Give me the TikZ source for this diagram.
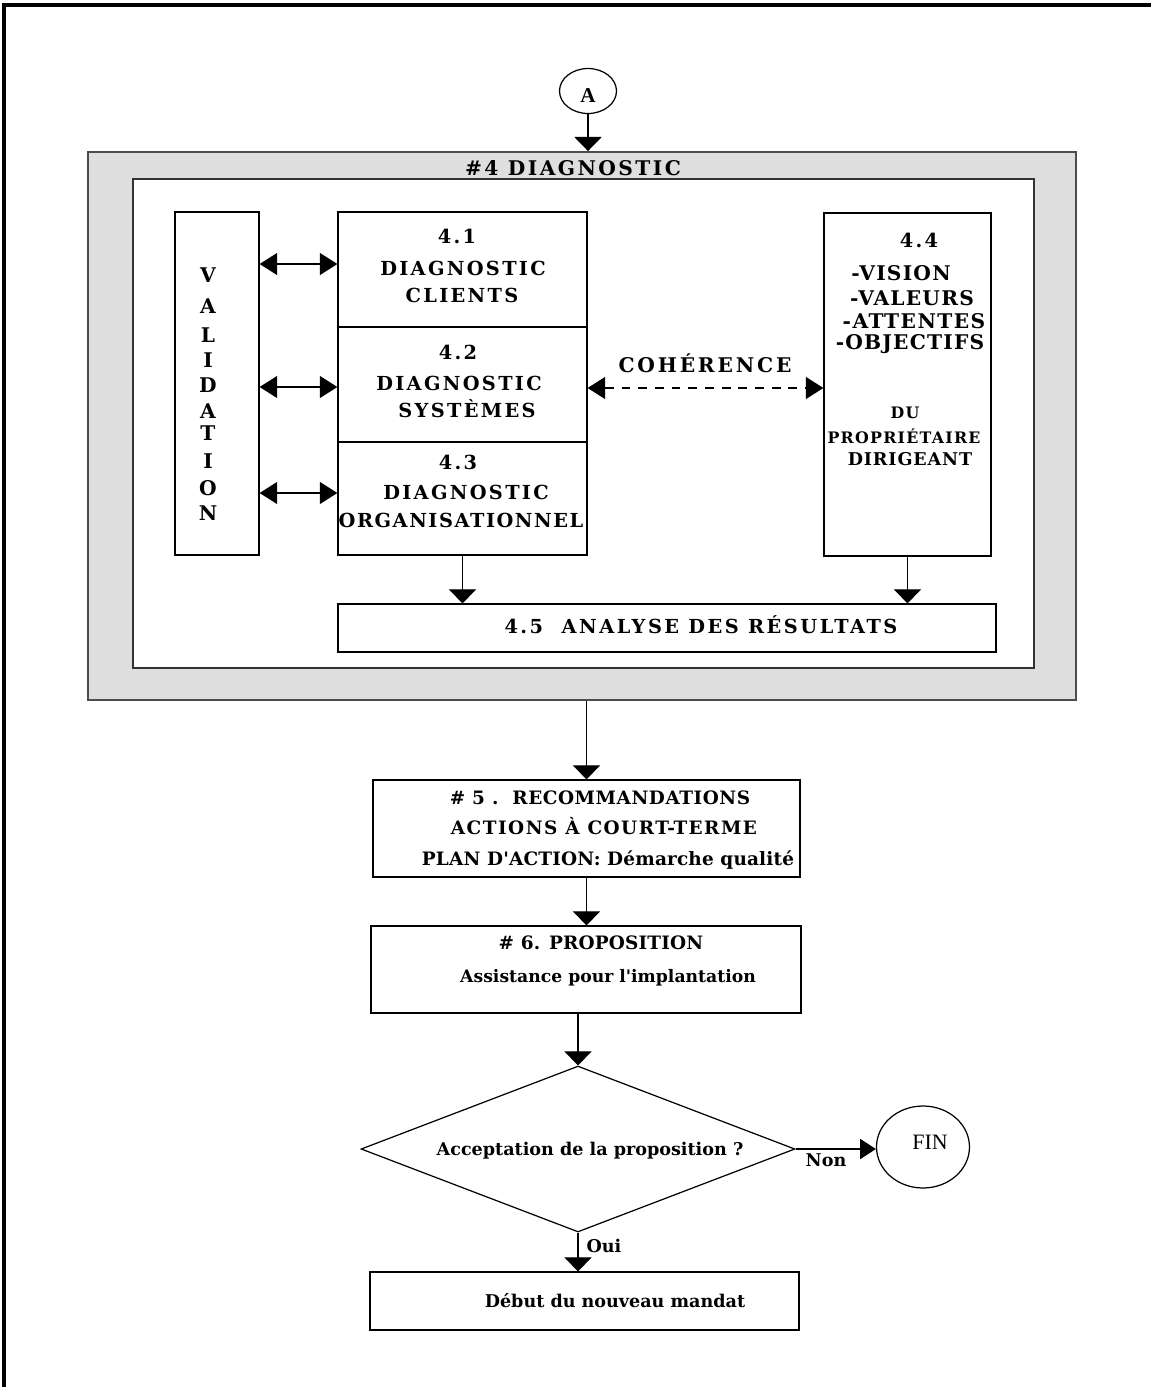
\documentclass[tikz,border=0pt]{standalone}
\usepackage{fontspec}
\setmainfont{DejaVu Serif}
\newfontfamily\dejavu{DejaVu Serif}
\newfontfamily\romanfont{Liberation Serif}
\usetikzlibrary{arrows.meta,shapes.geometric,fit}

\tikzset{
  frame/.style={draw, line width=0.7pt, inner sep=0pt},
  lbl/.style 2 args={anchor=base, inner sep=0pt,
    font=\dejavu\bfseries\fontsize{#1}{#1}\selectfont\addfontfeature{LetterSpace=#2}},
  arr/.style={line width=0.7pt, -{Triangle[length=8pt,width=15.5pt]}},
  dbl/.style={line width=0.7pt, {Triangle[length=10pt,width=12.5pt]}-{Triangle[length=10pt,width=12.5pt]}},
  sidearr/.style={line width=0.7pt, -{Triangle[length=9pt,width=11.5pt]}},
}

\begin{document}
\begin{tikzpicture}[x=0.02cm, y=-0.02cm]
\useasboundingbox (0,0) rectangle (1151,1387);

% page rule, top and left
\coordinate (pgbl) at (4,1387);
\coordinate (pgtl) at (4,5);
\coordinate (pgtr) at (1151,5);
\draw[line width=1.8pt] (pgbl) -- (pgtl) -- (pgtr);

% connector A
\node[ellipse, draw, line width=0.7pt, minimum width=1.14cm, minimum height=0.9cm, inner sep=0pt] (ca) at (588,91) {};
\node[anchor=base, inner sep=0pt, font=\romanfont\bfseries\fontsize{12}{12}\selectfont] (caA) at (588,102) {A};

% step 4 frame
\node[frame, fill=black!13, draw=black!70, line width=1.1pt, fit={(88,152) (1076,700)}] (diag) {};
\node[frame, fill=white, draw=black!80, line width=0.9pt, fit={(133,179) (1034,668)}] (inner) {};
\node[lbl={11.5}{12}] (title) at (573,175) {\#4 DIAGNOSTIC};

% validation column
\node[frame, fit={(175,212) (259,555)}] (val) {};
\foreach \ch/\yy [count=\k] in {V/282, A/313, L/342, I/367, D/392, A/418, T/440, I/468, O/495, N/520}
  \node[lbl={11.5}{0}] (v\k) at (208,\yy) {\ch};

% diagnostic boxes
\node[frame, fit={(338,212) (587,327)}] (d1) {};
\node[frame, fit={(338,327) (587,442)}] (d2) {};
\node[frame, fit={(338,442) (587,555)}] (d3) {};
\node[lbl={11}{12}] (d1a) at (457,243) {4.1};
\node[lbl={11}{12}] (d1b) at (463,275) {DIAGNOSTIC};
\node[lbl={11}{12}] (d1c) at (462,302) {CLIENTS};
\node[lbl={11}{12}] (d2a) at (458,359) {4.2};
\node[lbl={11}{12}] (d2b) at (459,390) {DIAGNOSTIC};
\node[lbl={11}{12}] (d2c) at (467,417) {SYSTÈMES};
\node[lbl={11}{12}] (d3a) at (458,469) {4.3};
\node[lbl={11}{12}] (d3b) at (466,499) {DIAGNOSTIC};
\node[lbl={11}{8}] (d3c) at (461,527) {ORGANISATIONNEL};

% owner box
\node[frame, fit={(824,213) (991,556)}] (d4) {};
\node[lbl={11}{12}] (d4a) at (919,247) {4.4};
\node[lbl={11.5}{6}] (d4b) at (901,280) {-VISION};
\node[lbl={11.5}{6}] (d4c) at (912,305) {-VALEURS};
\node[lbl={11.5}{7}] (d4d) at (914,328) {-ATTENTES};
\node[lbl={11.5}{6}] (d4e) at (910,349) {-OBJECTIFS};
\node[lbl={9}{8}] (d4f) at (905,418) {DU};
\node[lbl={9}{8}] (d4g) at (904,443) {PROPRIÉTAIRE};
\node[lbl={10}{5}] (d4h) at (910,465) {DIRIGEANT};

\node[lbl={11.5}{14}] (coh) at (705,372) {COHÉRENCE};

% results
\node[frame, fit={(338,604) (996,652)}] (res) {};
\node[lbl={11}{13}] (rest) at (701,633) {4.5\ \ ANALYSE DES RÉSULTATS};

% steps 5 and 6
\node[frame, fit={(373,780) (800,877)}] (rec) {};
\node[lbl={10.5}{3}] (reca) at (600,804) {\# 5 .\ \ RECOMMANDATIONS};
\node[lbl={10.5}{8}] (recb) at (604,834) {ACTIONS À COURT-TERME};
\node[lbl={10.5}{1}] (recc) at (608,865) {PLAN D'ACTION: Démarche qualité};

\node[frame, fit={(371,926) (801,1013)}] (prop) {};
\node[lbl={10.5}{1}] (propa) at (601,949) {\# 6. PROPOSITION};
\node[lbl={9.8}{0}] (propb) at (608,982) {Assistance pour l'implantation};

% decision
\node[diamond, draw, line width=0.7pt, minimum width=8.68cm, minimum height=3.32cm, inner sep=0pt] (dec) at (578,1149) {};
\node[lbl={10}{0}] (dect) at (590,1155) {Acceptation de la proposition ?};

\node[ellipse, draw, line width=0.7pt, minimum width=1.86cm, minimum height=1.64cm, inner sep=0pt] (fin) at (923,1147) {};
\node[anchor=base, inner sep=0pt, font=\romanfont\fontsize{12.5}{12.5}\selectfont] (fint) at (930,1149) {FIN};

\node[lbl={10}{0}] (non) at (826,1166) {Non};
\node[lbl={10}{0}] (oui) at (604,1252) {Oui};

\node[frame, fit={(370,1272) (799,1330)}] (mand) {};
\node[lbl={10}{0}] (mandt) at (615,1307) {Début du nouveau mandat};

% connectors
\draw[arr] (ca.south) -- (ca.south |- diag.north);
\draw[dbl] (val.east |- 0,264) -- (d1.west |- 0,264);
\draw[dbl] (val.east |- 0,387) -- (d2.west |- 0,387);
\draw[dbl] (val.east |- 0,493) -- (d3.west |- 0,493);
\draw[dbl, dash pattern=on 5pt off 4.5pt] (d2.east |- 0,388) -- (d4.west |- 0,388);
\draw[arr] (d3.south) -- (d3.south |- res.north);
\draw[arr] (d4.south) -- (d4.south |- res.north);
\draw[arr] (rec.north |- diag.south) -- (rec.north);
\draw[arr] (rec.south) -- (rec.south |- prop.north);
\draw[arr] (dec.north |- prop.south) -- (dec.north);
\draw[sidearr] (dec.east) -- (dec.east -| fin.west);
\draw[arr] (dec.south) -- (dec.south |- mand.north);
\end{tikzpicture}
\end{document}
